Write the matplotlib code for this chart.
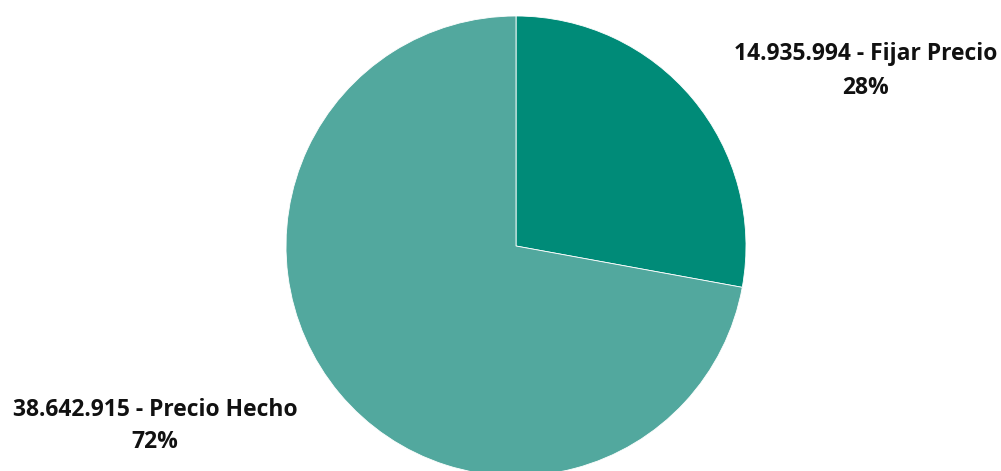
import matplotlib.pyplot as plt

categories = ['Fijar Precio', 'Precio Hecho']
values = [14935994, 38642915]
labels = ['14.935.994 - Fijar Precio\n28%', '38.642.915 - Precio Hecho\n72%']
colors = ['#008B78', '#52A89E']

W, H = 1001, 471
fig = plt.figure(figsize=(W / 100, H / 100), dpi=100)

# pie axes in pixel space: center ~ (516, 246), radius ~ 230
cx, cy, r = 516, 246, 230
ax = fig.add_axes([(cx - r) / W, (H - cy - r) / H, 2 * r / W, 2 * r / H])
ax.pie(values, colors=colors, startangle=90, counterclock=False, radius=1,
       wedgeprops=dict(linewidth=0.6, edgecolor='white'))
ax.set_xlim(-1, 1)
ax.set_ylim(-1, 1)
ax.set_aspect('equal')
ax.axis('off')

# data labels
label_pos = [(866, 71), (155, 426)]
for lab, (x, y) in zip(labels, label_pos):
    fig.text(x / W, 1 - y / H, lab, ha='center', va='center', fontsize=16.5,
             fontweight='bold', family='Open Sans', color='#111111', linespacing=1.5)

fig.savefig('out.png', dpi=100)
